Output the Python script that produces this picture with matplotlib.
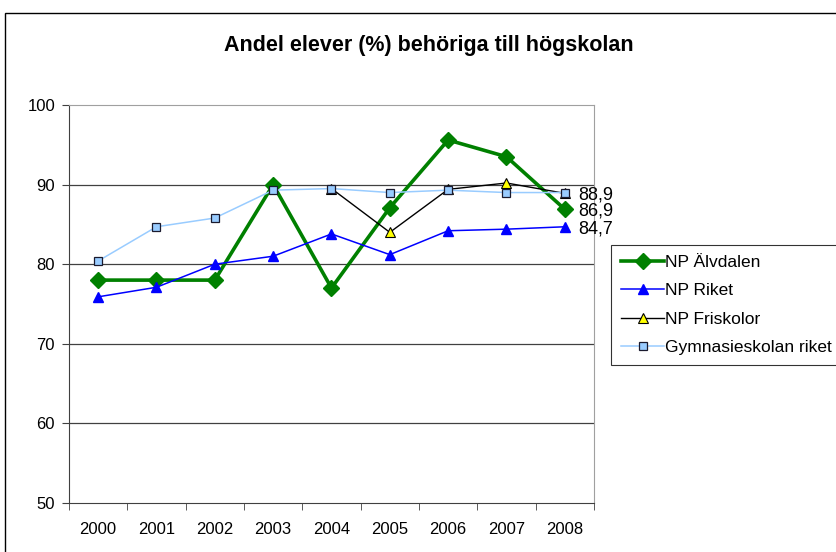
import numpy as np
import matplotlib.pyplot as plt
from matplotlib.patches import Rectangle

plt.rcParams['font.family'] = ['Liberation Sans', 'DejaVu Sans']

# Data
years = ['2000', '2001', '2002', '2003', '2004', '2005', '2006', '2007', '2008']
np_alvdalen = [78.0, 78.0, 78.0, 90.0, 77.0, 87.1, 95.6, 93.5, 86.9]
np_riket = [75.9, 77.1, 80.0, 81.0, 83.8, 81.2, 84.2, 84.4, 84.7]
np_friskolor = [np.nan, np.nan, np.nan, np.nan, 89.5, 84.0, 89.4, 90.2, 88.9]
gymn_riket = [80.4, 84.7, 85.8, 89.3, 89.5, 89.0, 89.3, 89.0, 89.0]
end_labels = ['88,9', '86,9', '84,7']
end_values = [88.9, 86.9, 84.7]

fig = plt.figure(figsize=(8.36, 5.52), dpi=100)
ax = fig.add_axes([0.0825, 0.0888, 0.628, 0.721])

x = np.arange(len(years))
ax.plot(x, np_alvdalen, color='#008000', lw=2.6, marker='D', ms=8,
        mfc='#008000', mec='#008000', label='NP Älvdalen')
ax.plot(x, np_riket, color='#0000ff', lw=1.1, marker='^', ms=7,
        mfc='#0000ff', mec='#0000ff', label='NP Riket')
ax.plot(x, np_friskolor, color='black', lw=1.0, marker='^', ms=7,
        mfc='#ffff00', mec='black', mew=0.8, label='NP Friskolor')
ax.plot(x, gymn_riket, color='#99ccff', lw=1.1, marker='s', ms=5.5,
        mfc='#99ccff', mec='#1a1a2e', mew=0.9, label='Gymnasieskolan riket')

# Etiketter vid 2008
for lab, val in zip(end_labels, end_values):
    ax.annotate(lab, (x[-1], val), xytext=(9.5, 0), textcoords='offset points',
                va='center_baseline', ha='left', fontsize=13, annotation_clip=False)

ax.set_xlim(-0.5, len(years) - 0.5)
ax.set_ylim(50, 100)
ax.set_yticks([50, 60, 70, 80, 90, 100])
ax.set_xticks(x)
ax.set_xticklabels(years)
ax.set_xticks(np.arange(-0.5, len(years)), minor=True)
ax.tick_params(axis='x', which='major', length=0, pad=14, labelsize=12)
ax.tick_params(axis='x', which='minor', length=5, direction='out', color='#404040')
ax.tick_params(axis='y', length=5, direction='out', pad=5, labelsize=12, color='#404040')
for v in [60, 70, 80, 90]:
    ax.axhline(v, color='#404040', lw=0.9, zorder=0)
ax.spines['left'].set_color('#404040')
ax.spines['bottom'].set_color('#404040')
ax.spines['top'].set_color('#a0a0a0')
ax.spines['right'].set_color('#a0a0a0')

fig.text(0.513, 0.908, 'Andel elever (%) behöriga till högskolan',
         ha='center', va='baseline', fontsize=15.5, fontweight='bold')

leg = fig.legend(loc='upper left', bbox_to_anchor=(0.731, 0.556),
                 fontsize=12.5, frameon=True, fancybox=False, edgecolor='black',
                 handlelength=2.5, borderpad=0.57, labelspacing=0.76,
                 handletextpad=0.05, borderaxespad=0)
leg.get_frame().set_linewidth(0.8)

# Ram runt diagrammet
fig.patches.append(Rectangle((0.006, -0.1), 1.1, 1.0764,
                             transform=fig.transFigure, fill=False,
                             edgecolor='black', lw=1.0))

fig.savefig('out.png', dpi=100)
